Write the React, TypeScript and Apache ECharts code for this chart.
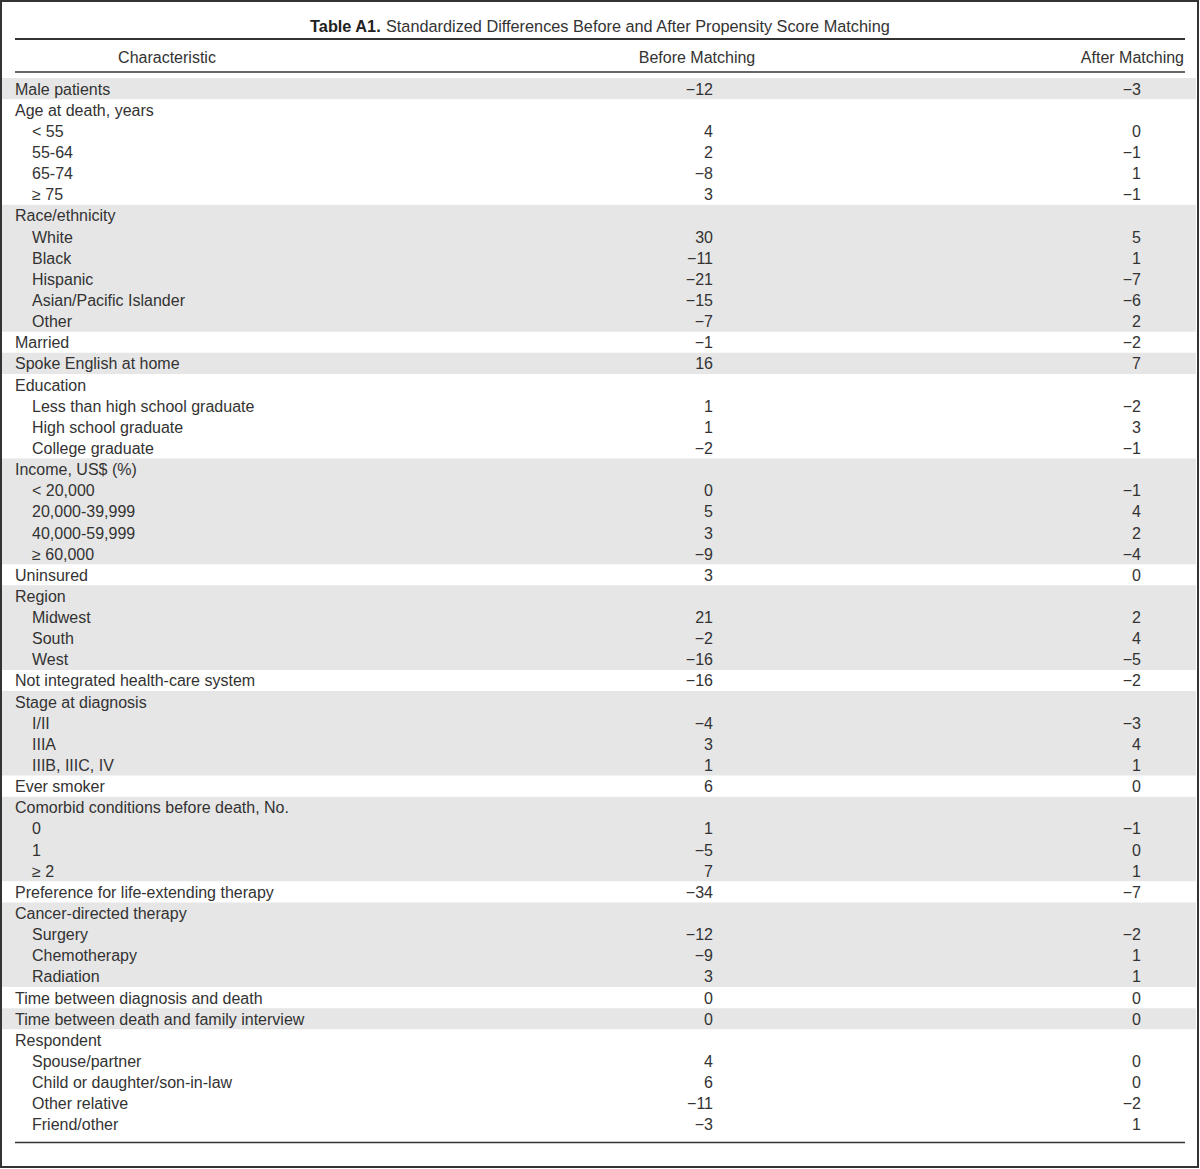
import React, { useEffect, useRef } from "react";
import * as echarts from "echarts";

const titleBold = "Table A1.";
const titleText = "Standardized Differences Before and After Propensity Score Matching";
const headers = ["Characteristic", "Before Matching", "After Matching"];

const labels = [
  "Male patients",
  "Age at death, years",
  "< 55",
  "55-64",
  "65-74",
  "≥ 75",
  "Race/ethnicity",
  "White",
  "Black",
  "Hispanic",
  "Asian/Pacific Islander",
  "Other",
  "Married",
  "Spoke English at home",
  "Education",
  "Less than high school graduate",
  "High school graduate",
  "College graduate",
  "Income, US$ (%)",
  "< 20,000",
  "20,000-39,999",
  "40,000-59,999",
  "≥ 60,000",
  "Uninsured",
  "Region",
  "Midwest",
  "South",
  "West",
  "Not integrated health-care system",
  "Stage at diagnosis",
  "I/II",
  "IIIA",
  "IIIB, IIIC, IV",
  "Ever smoker",
  "Comorbid conditions before death, No.",
  "0",
  "1",
  "≥ 2",
  "Preference for life-extending therapy",
  "Cancer-directed therapy",
  "Surgery",
  "Chemotherapy",
  "Radiation",
  "Time between diagnosis and death",
  "Time between death and family interview",
  "Respondent",
  "Spouse/partner",
  "Child or daughter/son-in-law",
  "Other relative",
  "Friend/other",
];

// 1 = indented sub-item, 0 = top-level characteristic
const indentLevels = [
  0, 0, 1, 1, 1, 1, 0, 1, 1, 1, 1, 1, 0, 0, 0, 1, 1, 1, 0, 1, 1, 1, 1, 0, 0,
  1, 1, 1, 0, 0, 1, 1, 1, 0, 0, 1, 1, 1, 0, 0, 1, 1, 1, 0, 0, 0, 1, 1, 1, 1,
];

const beforeValues: (number | null)[] = [
  -12, null, 4, 2, -8, 3, null, 30, -11, -21, -15, -7, -1, 16, null, 1, 1, -2,
  null, 0, 5, 3, -9, 3, null, 21, -2, -16, -16, null, -4, 3, 1, 6, null, 1, -5,
  7, -34, null, -12, -9, 3, 0, 0, null, 4, 6, -11, -3,
];

const afterValues: (number | null)[] = [
  -3, null, 0, -1, 1, -1, null, 5, 1, -7, -6, 2, -2, 7, null, -2, 3, -1, null,
  -1, 4, 2, -4, 0, null, 2, 4, -5, -2, null, -3, 4, 1, 0, null, -1, 0, 1, -7,
  null, -2, 1, 1, 0, 0, null, 0, 0, -2, 1,
];

const FONT = "'Liberation Sans', Arial, sans-serif";
const TEXT_COLOR = "#333";
const SHADE = "#e6e6e6";

function fmt(v: number | null): string {
  if (v === null || v === undefined) return "";
  return v < 0 ? "\u2212" + Math.abs(v) : String(v);
}

// group index: a new group starts at each top-level row
const groupIndex: number[] = [];
{
  let g = -1;
  for (let i = 0; i < labels.length; i++) {
    if (indentLevels[i] === 0) g++;
    groupIndex.push(g);
  }
}

export default function App() {
  const ref = useRef<HTMLDivElement>(null);

  useEffect(() => {
    document.body.style.margin = "0";
    if (!ref.current) return;
    const chart = echarts.init(ref.current, null, { renderer: "svg" });

    const rowH = 21.14;
    const gridTop = 78;
    const gridLeft = 2;
    const gridWidth = 1194;

    const data = labels.map((_, i) => [0, i]);

    const option: any = {
      animation: false,
      backgroundColor: "#fff",
      grid: {
        left: gridLeft,
        top: gridTop,
        width: gridWidth,
        height: rowH * labels.length,
      },
      xAxis: { type: "value", min: 0, max: 1, show: false },
      yAxis: {
        type: "category",
        data: labels,
        inverse: true,
        show: false,
        boundaryGap: true,
      },
      series: [
        {
          type: "custom",
          encode: { x: 0, y: 1 },
          data,
          renderItem: (params: any, api: any) => {
            const idx = api.value(1);
            const cs = params.coordSys;
            const pt = api.coord([0, idx]);
            const h = api.size([0, 1])[1];
            const yc = pt[1];
            const shaded = groupIndex[idx] % 2 === 0;
            const nextShaded =
              idx + 1 < labels.length && groupIndex[idx + 1] === groupIndex[idx];
            const children: any[] = [];
            if (shaded) {
              children.push({
                type: "rect",
                shape: {
                  x: cs.x,
                  y: yc - h / 2,
                  width: cs.width,
                  height: h + (nextShaded ? 1 : 0),
                },
                style: { fill: SHADE },
              });
            }
            const txt = (text: string, x: number, align: string) => ({
              type: "text",
              z2: 10,
              style: {
                text,
                x,
                y: yc + 0.5,
                textAlign: align,
                textVerticalAlign: "middle",
                fontSize: 16,
                fontFamily: FONT,
                fill: TEXT_COLOR,
              },
            });
            children.push(txt(labels[idx], indentLevels[idx] ? 32 : 15, "left"));
            children.push(txt(fmt(beforeValues[idx]), 713, "right"));
            children.push(txt(fmt(afterValues[idx]), 1141, "right"));
            return { type: "group", children };
          },
        },
      ],
      graphic: [
        {
          type: "rect",
          shape: { x: 1, y: 1, width: 1197, height: 1166 },
          style: { fill: "none", stroke: "#333", lineWidth: 2 },
          z: 10,
        },
        {
          type: "text",
          style: {
            text: "{b|" + titleBold + "} " + titleText,
            x: 600,
            y: 26,
            textAlign: "center",
            textVerticalAlign: "middle",
            fontSize: 16.3,
            fontFamily: FONT,
            fill: TEXT_COLOR,
            rich: {
              b: {
                fontSize: 16.3,
                fontWeight: "bold",
                fontFamily: FONT,
                fill: "#222",
              },
            },
          },
        },
        {
          type: "line",
          shape: { x1: 15, y1: 39, x2: 1185, y2: 39 },
          style: { stroke: "#333", lineWidth: 2 },
        },
        {
          type: "text",
          style: {
            text: headers[0],
            x: 167,
            y: 57.5,
            textAlign: "center",
            textVerticalAlign: "middle",
            fontSize: 16,
            fontFamily: FONT,
            fill: TEXT_COLOR,
          },
        },
        {
          type: "text",
          style: {
            text: headers[1],
            x: 697,
            y: 57.5,
            textAlign: "center",
            textVerticalAlign: "middle",
            fontSize: 16,
            fontFamily: FONT,
            fill: TEXT_COLOR,
          },
        },
        {
          type: "text",
          style: {
            text: headers[2],
            x: 1184,
            y: 57.5,
            textAlign: "right",
            textVerticalAlign: "middle",
            fontSize: 16,
            fontFamily: FONT,
            fill: TEXT_COLOR,
          },
        },
        {
          type: "line",
          shape: { x1: 15, y1: 72, x2: 1185, y2: 72 },
          style: { stroke: "#333", lineWidth: 1.5 },
        },
        {
          type: "line",
          shape: { x1: 15, y1: 1142.5, x2: 1185, y2: 1142.5 },
          style: { stroke: "#333", lineWidth: 1.5 },
        },
      ],
    };

    chart.setOption(option);
    return () => chart.dispose();
  }, []);

  return <div ref={ref} style={{ width: 1200, height: 1169 }} />;
}
